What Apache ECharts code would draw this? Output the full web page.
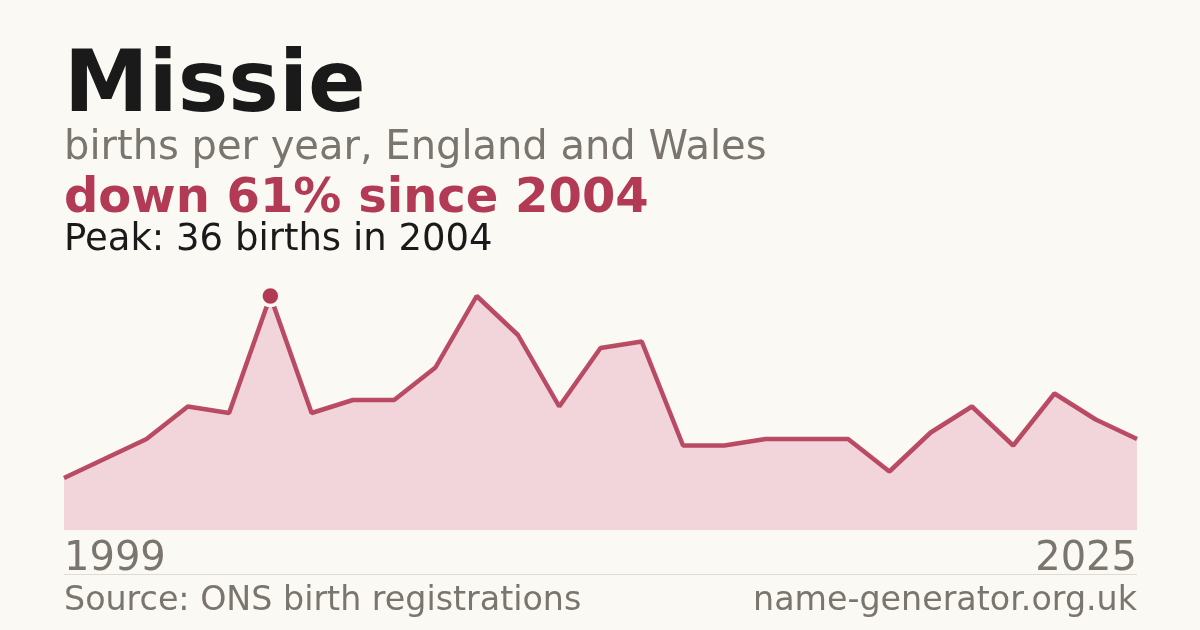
<!DOCTYPE html>
<html lang="en">
<head>
  <meta charset="utf-8">
  <title>Missie</title>
  <script src="https://cdn.jsdelivr.net/npm/echarts@6/dist/echarts.min.js"></script>
  <style>
    html, body { margin: 0; padding: 0; background: #faf9f4; }
    #main { width: 1200px; height: 630px; }
  </style>
</head>
<body>
<div id="main"></div>
<script type="text/javascript">
    // births per year
    var years = ['1999', '2000', '2001', '2002', '2003', '2004', '2005', '2006', '2007',
        '2008', '2009', '2010', '2011', '2012', '2013', '2014', '2015', '2016', '2017',
        '2018', '2019', '2020', '2021', '2022', '2023', '2024', '2025'];
    var births = [8, 11, 14, 19, 18, 36, 18, 20, 20, 25, 36, 30, 19, 28, 29, 13, 13, 14, 14,
        14, 9, 15, 19, 13, 21, 17, 14];
    var peakIndex = 5;

    var font = 'DejaVu Sans';
    var red = '#b33a55';
    var grey = '#7a756d';

    function label(text, pos, size, weight, color) {
        var el = { type: 'text', top: pos.top, style: {
            text: text, fontFamily: font, fontSize: size, fontWeight: weight, fill: color
        } };
        if (pos.right !== undefined) el.right = pos.right; else el.left = pos.left;
        return el;
    }

    var myChart = echarts.init(document.getElementById('main'));

    var option = {
        backgroundColor: '#faf9f4',
        animation: false,
        grid: { left: 64, right: 63, top: 296, bottom: 100 },
        xAxis: {
            type: 'category',
            data: years,
            boundaryGap: false,
            axisLine: { show: false },
            axisTick: { show: false },
            axisLabel: {
                interval: function (index) {
                    return index === 0 || index === years.length - 1;
                },
                alignMinLabel: 'left',
                alignMaxLabel: 'right',
                margin: 10,
                fontFamily: font,
                fontSize: 40,
                color: grey
            }
        },
        yAxis: {
            type: 'value',
            min: 0,
            max: 36,
            show: false,
            splitLine: { show: false }
        },
        series: [{
            type: 'line',
            data: births,
            clip: false,
            symbol: function (v, params) {
                return params.dataIndex === peakIndex ? 'circle' : 'none';
            },
            symbolSize: 19,
            itemStyle: { color: red, borderColor: '#faf9f4', borderWidth: 3.5 },
            lineStyle: { color: red, width: 4.5, opacity: 0.9 },
            areaStyle: { color: '#f2d5da', opacity: 1 },
            z: 3
        }],
        graphic: [
            label('Missie', { left: 64, top: 46 }, 85, 'bold', '#1a1a1a'),
            label('births per year, England and Wales', { left: 64, top: 129 }, 40, 'normal', grey),
            label('down 61% since 2004', { left: 64, top: 176 }, 48, 'bold', red),
            label('Peak: 36 births in 2004', { left: 64, top: 222 }, 37, 'normal', '#1a1a1a'),
            { type: 'line', shape: { x1: 64, y1: 574.5, x2: 1137, y2: 574.5 }, style: { stroke: '#dddbd4', lineWidth: 1 } },
            label('Source: ONS birth registrations', { left: 64, top: 585 }, 33.3, 'normal', grey),
            label('name-generator.org.uk', { right: 63, top: 585 }, 33.3, 'normal', grey)
        ]
    };

    myChart.setOption(option);
</script>
</body>
</html>
